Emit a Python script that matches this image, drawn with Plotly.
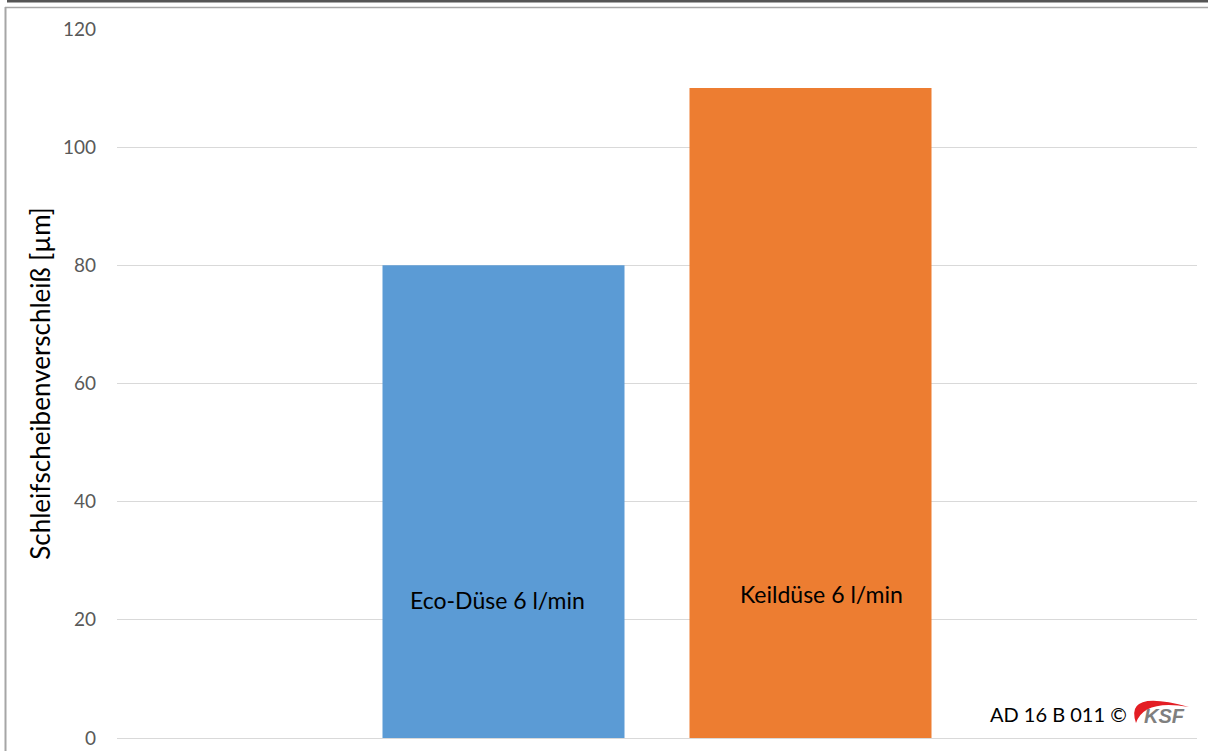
import plotly.graph_objects as go

# Grinding-wheel wear for two nozzle types at 6 l/min
category = ["6 l/min"]
series_names = ["Eco-Düse 6 l/min", "Keildüse 6 l/min"]
wear_um = [80, 110]
series_colors = ["#5B9BD5", "#ED7D31"]
y_ticks = [0, 20, 40, 60, 80, 100, 120]
y_title = "Schleifscheibenverschleiß [µm]"
stamp_text = "AD 16 B 011 ©"

W, H = 1208, 751
L, R, T, B = 117, 11, 29, 13
pw, ph = W - L - R, H - T - B


def px(x):
    return (x - L) / pw


def py(y):
    return (H - B - y) / ph


fig = go.Figure()
for name, val, col in zip(series_names, wear_um, series_colors):
    fig.add_trace(go.Bar(x=category, y=[val], name=name, marker_color=col,
                         marker_line_width=0, showlegend=False))

# series name labels placed inside the bars
label_pos = [(-0.148, 23.4), (0.152, 24.4)]
for name, (lx, ly) in zip(series_names, label_pos):
    fig.add_annotation(x=lx, y=ly, xref="x", yref="y", text=name, showarrow=False,
                       xanchor="center", yanchor="middle",
                       font=dict(family="Lato", size=23, color="#000000"))

# stamp with company logo
fig.add_annotation(x=px(1058), y=py(714), xref="paper", yref="paper", text=stamp_text,
                   showarrow=False, xanchor="center", yanchor="middle",
                   font=dict(family="Lato", size=20, color="#000000"))
fig.add_annotation(x=px(1164), y=py(716), xref="paper", yref="paper", text="<b><i>KSF</i></b>",
                   showarrow=False, xanchor="center", yanchor="middle",
                   font=dict(family="Liberation Sans", size=20, color="#7F7F7F"))

shapes = []
# red swoosh of the logo (crescent arching over the lettering)
sw = "M {a},{b} Q {c},{d} {e},{f} Q {g},{h} {a},{b} Z".format(
    a=px(1136), b=py(723), c=px(1124), d=py(689), e=px(1189), f=py(707),
    g=px(1144), h=py(699))
shapes.append(dict(type="path", xref="paper", yref="paper", path=sw,
                   fillcolor="#E31E24", line=dict(width=0)))
# outer frame lines
shapes.append(dict(type="line", xref="paper", yref="paper", x0=px(7), x1=px(W), y0=py(1), y1=py(1),
                   line=dict(color="#555555", width=3)))
shapes.append(dict(type="line", xref="paper", yref="paper", x0=px(5), x1=px(W), y0=py(7.5), y1=py(7.5),
                   line=dict(color="#A6A6A6", width=1.5)))
shapes.append(dict(type="line", xref="paper", yref="paper", x0=px(5.5), x1=px(5.5), y0=py(7), y1=py(H),
                   line=dict(color="#A6A6A6", width=2)))

fig.update_layout(
    width=W, height=H,
    margin=dict(l=L, r=R, t=T, b=B),
    paper_bgcolor="white", plot_bgcolor="white",
    barmode="group", bargap=0.4315, bargroupgap=0.2117,
    shapes=shapes,
    xaxis=dict(showticklabels=False, showgrid=False, zeroline=False, showline=False,
               range=[-0.5, 0.5], automargin=False),
    yaxis=dict(range=[0, 120], tickvals=y_ticks, showgrid=True, gridcolor="#D9D9D9",
               gridwidth=1, zeroline=True, zerolinecolor="#D9D9D9", zerolinewidth=1,
               showline=False, ticks="", ticklabelstandoff=20, automargin=False,
               tickfont=dict(family="Lato", size=19, color="#595959"),
               title=dict(text=y_title, standoff=4,
                          font=dict(family="Lato", size=26, color="#000000"))),
)

fig.write_html("out.html")
